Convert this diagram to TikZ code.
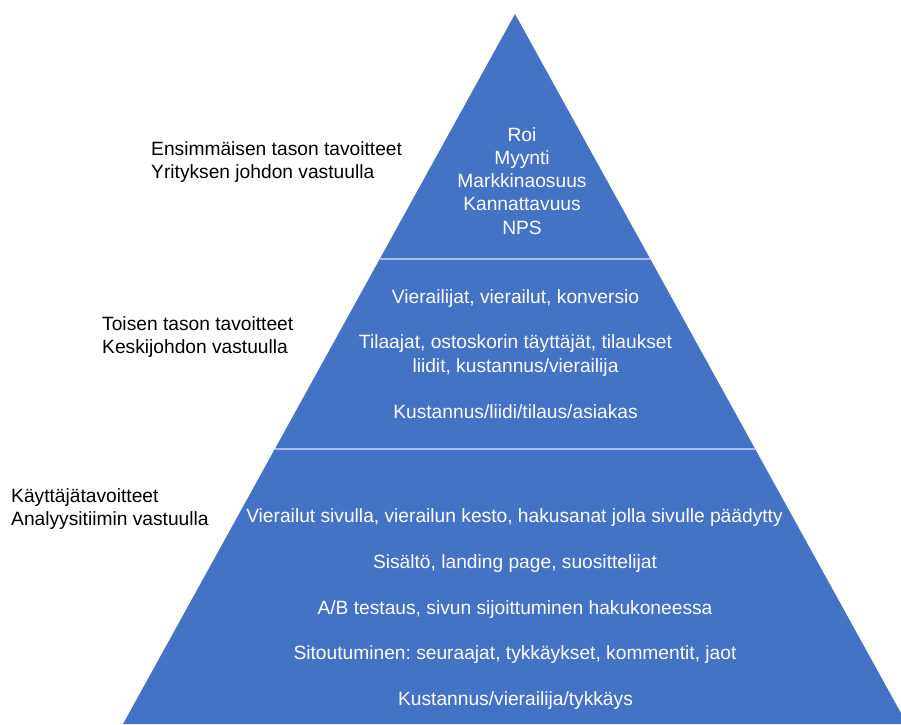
\documentclass[tikz,border=0pt]{standalone}
\usepackage{fontspec}
\setmainfont{Liberation Sans}
\frenchspacing
\definecolor{pyrblue}{HTML}{4472C4}
\definecolor{divline}{HTML}{A9BDE6}
\tikzset{
  lbl/.style={font=\fontsize{19.2}{23.5}\selectfont\frenchspacing, inner sep=0pt, anchor=base},
  intext/.style={lbl, text=white},
  sidetext/.style={lbl, text=black, anchor=base west},
}
\begin{document}
\begin{tikzpicture}[x=1pt,y=-1pt]
\useasboundingbox (0,0) rectangle (901,724);
\begin{scope}
\clip (0,0) rectangle (901,724);
\coordinate (apex) at (515,14);
\coordinate (bl) at (123,724);
\coordinate (br) at (907,724);
\fill[pyrblue] (apex) -- (bl) -- (br) -- cycle;
\coordinate (d1l) at (380,259);
\coordinate (d1r) at (650,259);
\coordinate (d2l) at (275,449);
\coordinate (d2r) at (755,449);
\draw[divline, line width=1.2pt] (d1l) -- (d1r);
\draw[divline, line width=1.2pt] (d2l) -- (d2r);
\end{scope}
% top block
\node[intext] (t1) at (522,141) {Roi};
\node[intext] (t2) at (522,164.3) {Myynti};
\node[intext] (t3) at (522,187.6) {Markkinaosuus};
\node[intext] (t4) at (522,210.9) {Kannattavuus};
\node[intext] (t5) at (522,234) {NPS};
% middle block
\node[intext] (m1) at (515.5,303) {Vierailijat, vierailut, konversio};
\node[intext] (m2) at (515.5,348.5) {Tilaajat, ostoskorin täyttäjät, tilaukset};
\node[intext] (m3) at (515.5,372) {liidit, kustannus/vierailija};
\node[intext] (m4) at (515.5,418) {Kustannus/liidi/tilaus/asiakas};
% bottom block
\node[intext] (b1) at (514.5,522) {Vierailut sivulla, vierailun kesto, hakusanat jolla sivulle päädytty};
\node[intext] (b2) at (515,568) {Sisältö, landing page, suosittelijat};
\node[intext] (b3) at (515,614) {A/B testaus, sivun sijoittuminen hakukoneessa};
\node[intext] (b4) at (515,659.5) {Sitoutuminen: seuraajat, tykkäykset, kommentit, jaot};
\node[intext] (b5) at (515.5,705) {Kustannus/vierailija/tykkäys};
% side labels
\node[sidetext] (s1a) at (151,155) {Ensimmäisen tason tavoitteet};
\node[sidetext] (s1b) at (151,178.3) {Yrityksen johdon vastuulla};
\node[sidetext] (s2a) at (102,330.5) {Toisen tason tavoitteet};
\node[sidetext] (s2b) at (102,353.8) {Keskijohdon vastuulla};
\node[sidetext] (s3a) at (11,502) {Käyttäjätavoitteet};
\node[sidetext] (s3b) at (11,525.3) {Analyysitiimin vastuulla};
\end{tikzpicture}
\end{document}
